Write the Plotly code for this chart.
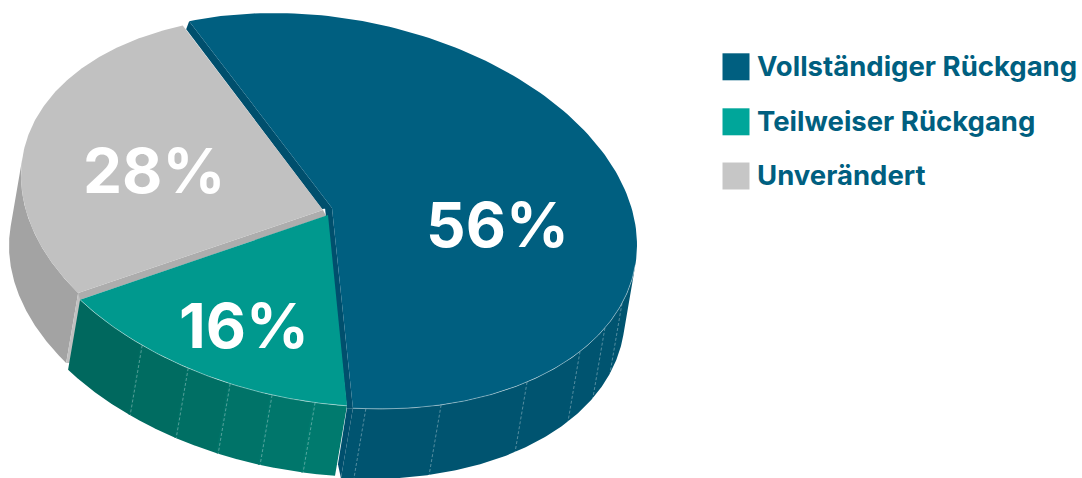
import numpy as np
import plotly.graph_objects as go

# Pie data
categories = ["Vollständiger Rückgang", "Teilweiser Rückgang", "Unverändert"]
shares = [56, 16, 28]

top_colors = ["#005f80", "#00998e", "#c1c1c1"]
swatch_colors = ["#005f80", "#00a69a", "#c6c6c6"]
TEXT_COLOR = "#005f80"

# Projection of the tilted disc (pixel space, y downwards)
W, H = 1082, 478
CX, CY = 327.0, 211.0
RX, RY = 310.0, 198.0
SKEW = np.radians(9.9)
START_ANGLE = -116.4
DEPTH = (-12.0, 70.0)

# Seam angles on the rim, in degrees of the disc parameter
blue_seams = [17.9, 26.3, 35.3, 49.8, 68.4, 82.8]
teal_seams = [92.2, 100.2, 108.2, 116.6, 126.6]


def rim(t_deg, cx=CX, cy=CY, rx=RX, ry=RY):
    t = np.radians(np.asarray(t_deg, dtype=float))
    return cx + rx * np.cos(t), cy + ry * np.sin(t + SKEW)


def arc(a, b, cx=CX, cy=CY, rx=RX, ry=RY, n=160):
    return rim(np.linspace(a, b, n), cx, cy, rx, ry)


def poly(fig, x, y, color):
    fig.add_trace(go.Scatter(
        x=list(x), y=list(y), mode="lines", fill="toself", fillcolor=color,
        line=dict(width=0, color=color), hoverinfo="skip", showlegend=False))


def stroke(fig, x, y, color, dash="solid", width=1):
    fig.add_trace(go.Scatter(
        x=list(x), y=list(y), mode="lines",
        line=dict(width=width, color=color, dash=dash),
        hoverinfo="skip", showlegend=False))


def wall(fig, a, b, color, **ell):
    x, y = arc(a, b, **ell)
    xs = np.concatenate([x, x[::-1] + DEPTH[0]])
    ys = np.concatenate([y, y[::-1] + DEPTH[1]])
    poly(fig, xs, ys, color)


def mix(c1, c2, f):
    a = np.array([int(c1[i:i + 2], 16) for i in (1, 3, 5)])
    b = np.array([int(c2[i:i + 2], 16) for i in (1, 3, 5)])
    r = (a + (b - a) * f).round().astype(int)
    return "#%02x%02x%02x" % tuple(r)


# Slice boundaries follow from the shares; small trims leave the gaps between slices
sweeps = np.array(shares) * 3.6
blue_a = START_ANGLE
blue_b = blue_a + sweeps[0]
teal_a = blue_b + 1.1
teal_b = blue_b + sweeps[1]
grey_a = teal_b + 1.5
grey_b = START_ANGLE + 360 - 1.5

grey_ell = dict(cx=325.0, cy=209.0, rx=304.0, ry=193.0)
teal_ell = dict(cx=CX, cy=CY - 2.0)
blue_apex = (332.0, 208.0)
teal_apex = (328.0, 215.0)
grey_apex = (323.0, 210.0)

fig = go.Figure()

# Grey slice: outer wall and cut faces
wall(fig, grey_a, 186, "#a3a3a3", **grey_ell)
gx0, gy0 = rim(grey_a, **grey_ell)
poly(fig, [gx0, gx0 + 4, gx0 + 4 + DEPTH[0], gx0 + DEPTH[0]],
     [gy0, gy0 + 3, gy0 + DEPTH[1], gy0 + DEPTH[1]], "#c0c0c0")
tx1, ty1 = rim(teal_b, **teal_ell)
poly(fig, [grey_apex[0], gx0, tx1, teal_apex[0] - 2],
     [grey_apex[1], gy0, ty1, teal_apex[1] + 1], "#adadad")

# Teal slice: rim wall, shaded segment by segment with a small overlap
edges = [teal_b] + teal_seams[::-1] + [teal_a]
for i in range(len(edges) - 1):
    f = i / (len(edges) - 2)
    wall(fig, edges[i] + 0.4 if i else edges[i], edges[i + 1],
         mix("#00685e", "#007a6e", f), **teal_ell)

# Blue slice: rim wall and cut faces
wall(fig, 6, blue_b, "#005470")
bx1, by1 = rim(blue_b)
poly(fig, [bx1, bx1 - 6, bx1 - 6 + DEPTH[0] + 3, bx1 + DEPTH[0]],
     [by1, by1, by1 + DEPTH[1] - 14, by1 + DEPTH[1]], "#004f6d")
bx0, by0 = rim(blue_a)
poly(fig, [bx0, bx0 - 3, blue_apex[0] - 10, blue_apex[0]],
     [by0, by0 + 8, blue_apex[1] + 1, blue_apex[1]], "#004f6d")
poly(fig, [blue_apex[0], bx1, bx1 - 6, blue_apex[0] - 7],
     [blue_apex[1], by1, by1, blue_apex[1]], "#004f6d")

# Seams on the rim walls
for seams, ell in ((blue_seams, {}), (teal_seams, teal_ell)):
    for s in seams:
        sx, sy = rim(s, **ell)
        stroke(fig, [sx, sx + DEPTH[0]], [sy, sy + DEPTH[1]],
               "rgba(255,255,255,0.33)", dash="3px,2px")

# Top faces
x, y = arc(blue_a, blue_b)
poly(fig, np.r_[blue_apex[0], x], np.r_[blue_apex[1], y], top_colors[0])
x, y = arc(teal_a, teal_b, **teal_ell)
poly(fig, np.r_[teal_apex[0], x], np.r_[teal_apex[1], y], top_colors[1])
x, y = arc(grey_a, grey_b, **grey_ell)
poly(fig, np.r_[grey_apex[0], x], np.r_[grey_apex[1], y], top_colors[2])

# Pale highlight along the front rim
x, y = arc(6, blue_b)
stroke(fig, x, y, "rgba(255,255,255,0.4)")
x, y = arc(teal_a, teal_b, **teal_ell)
stroke(fig, x, y, "rgba(255,255,255,0.4)")

# Legend swatches as real square markers
legend_y = [66.8, 121.8, 176]
fig.add_trace(go.Scatter(
    x=[736, 736, 736], y=legend_y, mode="markers",
    marker=dict(symbol="square", size=27, color=swatch_colors, line=dict(width=0)),
    hoverinfo="skip", showlegend=False))

annotations = []
for name, ly in zip(categories, legend_y):
    annotations.append(dict(
        x=755, y=ly - 1, xref="x", yref="y", text=name, showarrow=False,
        xanchor="left", yanchor="middle",
        font=dict(family="Inter", size=27.5, color=TEXT_COLOR, weight=700)))

# Percentage labels
label_pos = [(497, 224), (244, 325), (154, 170)]
for value, (lx, ly) in zip(shares, label_pos):
    annotations.append(dict(
        x=lx, y=ly, xref="x", yref="y", text=f"{value}%", showarrow=False,
        xanchor="center", yanchor="middle",
        font=dict(family="Inter", size=62, color="#ffffff", weight=700)))

fig.update_layout(
    width=W, height=H, margin=dict(l=0, r=0, t=0, b=0),
    paper_bgcolor="#ffffff", plot_bgcolor="#ffffff", showlegend=False,
    xaxis=dict(range=[0, W], visible=False, fixedrange=True),
    yaxis=dict(range=[H, 0], visible=False, fixedrange=True),
    annotations=annotations)

fig.write_html("out.html", config=dict(displayModeBar=False))
